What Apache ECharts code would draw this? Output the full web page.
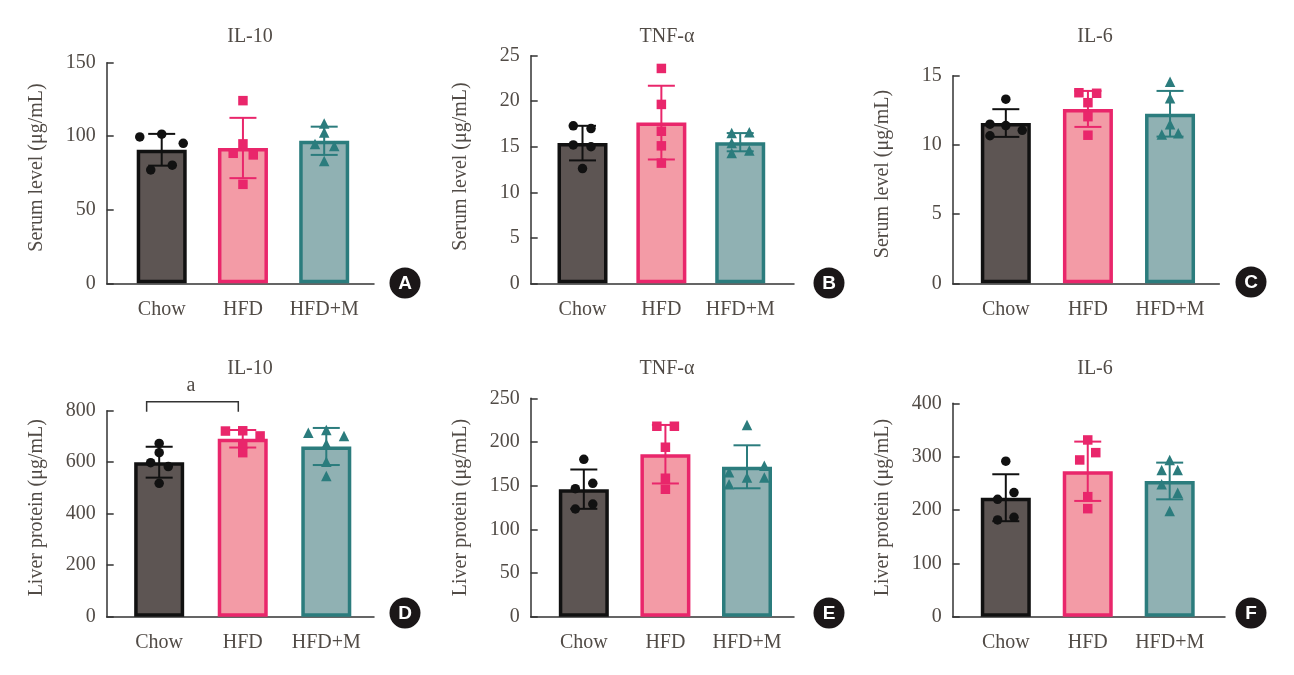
<!DOCTYPE html>
<html>
<head>
<meta charset="utf-8">
<script src="https://cdn.jsdelivr.net/npm/echarts@6/dist/echarts.min.js"></script>
<style>
html,body{margin:0;padding:0;background:#fff;}
#chart{width:1294px;height:675px;}
</style>
</head>
<body>
<div id="chart"></div>
<script>
// ---------- data ----------
const categories = ['Chow', 'HFD', 'HFD+M'];
const panelTitles = ['IL-10', 'TNF-α', 'IL-6', 'IL-10', 'TNF-α', 'IL-6'];
const yAxisNames = ['Serum level (μg/mL)', 'Serum level (μg/mL)', 'Serum level (μg/mL)',
                    'Liver protein (μg/mL)', 'Liver protein (μg/mL)', 'Liver protein (μg/mL)'];
const panelLetters = ['A', 'B', 'C', 'D', 'E', 'F'];
const yMax = [150, 25, 15, 800, 250, 400];
const yInterval = [50, 5, 5, 200, 50, 100];

const serumIL10Mean = [90.8, 92.0, 96.9];
const serumIL10SD = [10.8, 20.5, 9.6];
const serumIL10Points = [[99.5, 101.4, 95.2, 77.1, 80.3], [124.2, 94.8, 88.4, 87.3, 67.3], [108.6, 102.5, 94.8, 93.4, 83.2]];

const serumTNFMean = [15.4, 17.65, 15.5];
const serumTNFSD = [1.9, 4.05, 1.0];
const serumTNFPoints = [[17.3, 17.0, 15.2, 15.0, 12.6], [23.6, 19.65, 16.7, 15.1, 13.2], [16.5, 16.6, 15.4, 14.3, 14.6]];

const serumIL6Mean = [11.58, 12.6, 12.25];
const serumIL6SD = [1.0, 1.3, 1.65];
const serumIL6Points = [[13.3, 11.5, 11.4, 11.05, 10.66], [13.77, 13.73, 13.05, 12.04, 10.7], [14.57, 13.37, 11.5, 10.76, 10.84]];

const liverIL10Mean = [600, 691, 661];
const liverIL10SD = [60, 34, 72];
const liverIL10Points = [[673, 637, 598, 583, 518], [721, 722, 702, 670, 637], [714.6, 725, 701.7, 670.6, 602, 546]];

const liverTNFMean = [146, 186, 171.6];
const liverTNFSD = [22.5, 33.5, 24.6];
const liverTNFPoints = [[180.2, 152.7, 146.6, 129, 123.3], [218, 218, 194, 158.5, 145.9], [219.5, 172.9, 165.3, 159.2, 159.2, 151.6]];

const liverIL6Mean = [223, 272.6, 254.4];
const liverIL6SD = [44, 55.6, 34.4];
const liverIL6Points = [[291.6, 232.6, 220, 186.4, 181.3], [331.3, 307.5, 293.8, 225, 202.5], [293.8, 275, 275, 248.3, 232.5, 198.2]];

// horizontal jitter of individual points (fraction of category spacing)
const serumIL10Jitter = [[-0.27, 0, 0.265, -0.135, 0.13], [0, 0, -0.12, 0.127, 0], [0, 0, -0.113, 0.124, 0]];
const serumTNFJitter = [[-0.117, 0.108, -0.117, 0.108, 0], [0, 0, 0, 0, 0], [-0.108, 0.115, -0.108, -0.108, 0.115]];
const serumIL6Jitter = [[0, -0.193, 0, 0.2, -0.193], [-0.11, 0.106, 0, 0, 0], [0, 0, 0, -0.1, 0.1]];
const liverIL10Jitter = [[0, 0, -0.102, 0.109, 0], [-0.207, 0, 0.208, 0, 0], [-0.215, 0, 0.212, 0, 0, 0]];
const liverTNFJitter = [[0, 0.11, -0.104, 0.11, -0.104], [-0.105, 0.11, 0, 0, 0], [0, 0.212, -0.22, 0, 0.212, -0.22]];
const liverIL6Jitter = [[0, 0.1, -0.1, 0.1, -0.1], [0, 0.098, -0.098, 0, 0], [0, -0.098, 0.098, -0.098, 0.098, 0]];

const means = [serumIL10Mean, serumTNFMean, serumIL6Mean, liverIL10Mean, liverTNFMean, liverIL6Mean];
const sds = [serumIL10SD, serumTNFSD, serumIL6SD, liverIL10SD, liverTNFSD, liverIL6SD];
const points = [serumIL10Points, serumTNFPoints, serumIL6Points, liverIL10Points, liverTNFPoints, liverIL6Points];
const jitters = [serumIL10Jitter, serumTNFJitter, serumIL6Jitter, liverIL10Jitter, liverTNFJitter, liverIL6Jitter];

// ---------- layout & style ----------
const layout = [
  {left: 106.7, right: 920, top: 62.7, bottom: 391.7, xMin: -0.677, xMax: 2.613, namePad: 11},
  {left: 530.7, right: 500, top: 55.7, bottom: 391.7, xMin: -0.657, xMax: 2.682, namePad: 6},
  {left: 952.7, right: 74.7, top: 75.7, bottom: 391.7, xMin: -0.647, xMax: 2.6, namePad: 11},
  {left: 106.7, right: 920, top: 410.7, bottom: 58.3, xMin: -0.628, xMax: 2.571, namePad: 12},
  {left: 530.7, right: 500, top: 398.3, bottom: 58.3, xMin: -0.651, xMax: 2.576, namePad: 0},
  {left: 952.7, right: 69, top: 403.3, bottom: 58.3, xMin: -0.648, xMax: 2.675, namePad: 5}
];
const titlePos = [[245, 22], [662, 22], [1090, 22], [245, 354], [662, 354], [1090, 354]];
const badgePos = [[405, 283], [829, 283], [1251, 282], [405, 613], [829, 613], [1251, 613]];

const fillColors = ['#5d5553', '#f39ba6', '#90b1b3'];
const edgeColors = ['#111111', '#e9266b', '#2b7c7d'];
const symbols = ['circle', 'rect', 'triangle'];
const symbolSizes = [9.5, 9.5, 10.5];
const textColor = '#514b46';
const serif = '"Liberation Serif", "Times New Roman", serif';

const grids = [], xAxes = [], yAxes = [], series = [], titles = [], graphics = [];

layout.forEach((L, p) => {
  grids.push({left: L.left, right: L.right, top: L.top, bottom: L.bottom, containLabel: false});
  xAxes.push({
    type: 'value', gridIndex: p, min: L.xMin, max: L.xMax,
    axisLine: {show: true, onZero: false, lineStyle: {color: '#333', width: 1.5}},
    axisTick: {show: false},
    splitLine: {show: false},
    axisLabel: {
      customValues: [0, 1, 2],
      formatter: v => categories[Math.round(v)],
      fontFamily: serif, fontSize: 20, color: textColor, margin: 16
    }
  });
  yAxes.push({
    type: 'value', gridIndex: p, min: 0, max: yMax[p], interval: yInterval[p],
    name: yAxisNames[p], nameLocation: 'middle', nameRotate: 90, nameGap: 60,
    nameTextStyle: {fontFamily: serif, fontSize: 20, color: textColor, padding: [0, 0, 0, L.namePad]},
    axisLine: {show: true, onZero: false, lineStyle: {color: '#333', width: 1.5}},
    axisTick: {show: true, inside: true, length: 7, lineStyle: {color: '#333', width: 1.5}},
    splitLine: {show: false},
    axisLabel: {fontFamily: serif, fontSize: 20, color: textColor, margin: 11}
  });
  titles.push({
    text: panelTitles[p], left: titlePos[p][0], top: titlePos[p][1], textAlign: 'center',
    textStyle: {fontFamily: serif, fontSize: 20, fontWeight: 'normal', color: textColor}
  });

  // bars (mean)
  series.push({
    type: 'bar', xAxisIndex: p, yAxisIndex: p, barWidth: 50, z: 2,
    data: means[p].map((m, i) => ({
      value: [i, m],
      itemStyle: {color: fillColors[i], borderColor: edgeColors[i], borderWidth: 3.5}
    }))
  });
  // error bars (SD)
  series.push({
    type: 'custom', xAxisIndex: p, yAxisIndex: p, z: 3,
    data: means[p].map((m, i) => [i, m, sds[p][i]]),
    renderItem: (params, api) => {
      const x = api.value(0), m = api.value(1), s = api.value(2);
      const hi = api.coord([x, m + s]);
      const lo = api.coord([x, m - s]);
      const c = edgeColors[params.dataIndex];
      const hw = 13.5;
      const st = {stroke: c, lineWidth: 2};
      return {type: 'group', children: [
        {type: 'line', shape: {x1: hi[0], y1: hi[1], x2: lo[0], y2: lo[1]}, style: st},
        {type: 'line', shape: {x1: hi[0] - hw, y1: hi[1], x2: hi[0] + hw, y2: hi[1]}, style: st},
        {type: 'line', shape: {x1: lo[0] - hw, y1: lo[1], x2: lo[0] + hw, y2: lo[1]}, style: st}
      ]};
    }
  });
  // individual points
  points[p].forEach((vals, g) => {
    series.push({
      type: 'scatter', xAxisIndex: p, yAxisIndex: p, z: 4,
      symbol: symbols[g], symbolSize: symbolSizes[g],
      itemStyle: {color: edgeColors[g], opacity: 1},
      data: vals.map((v, k) => [g + jitters[p][g][k], v])
    });
  });

  // panel letter badge
  graphics.push({
    type: 'circle', shape: {cx: badgePos[p][0], cy: badgePos[p][1], r: 15.5},
    style: {fill: '#1b1718'}, z: 10
  });
  graphics.push({
    type: 'text', x: badgePos[p][0], y: badgePos[p][1] + 1, z: 11,
    style: {text: panelLetters[p], fill: '#fff', font: 'bold 19px "Liberation Sans", Arial, sans-serif',
            align: 'center', verticalAlign: 'middle'}
  });
});

const chart = echarts.init(document.getElementById('chart'), null, {renderer: 'canvas'});
chart.setOption({
  backgroundColor: '#fff',
  animation: false,
  title: titles,
  grid: grids,
  xAxis: xAxes,
  yAxis: yAxes,
  series: series,
  graphic: graphics
});

// significance bracket "a" between Chow and HFD in panel D, placed via the panel's scales
const px = (x, y) => chart.convertToPixel({gridIndex: 3}, [x, y]);
const b1 = px(-0.15, 796), b2 = px(-0.15, 835), b3 = px(0.947, 835), b4 = px(0.947, 796);
const aPos = px(0.38, 895);
chart.setOption({
  graphic: graphics.concat([
    {type: 'polyline', shape: {points: [b1, b2, b3, b4]}, style: {stroke: '#333', lineWidth: 1.5, fill: null}, z: 10},
    {type: 'text', x: aPos[0], y: aPos[1], z: 10,
     style: {text: 'a', fill: textColor, font: '20px ' + serif, align: 'center', verticalAlign: 'middle'}}
  ])
});
</script>
</body>
</html>
